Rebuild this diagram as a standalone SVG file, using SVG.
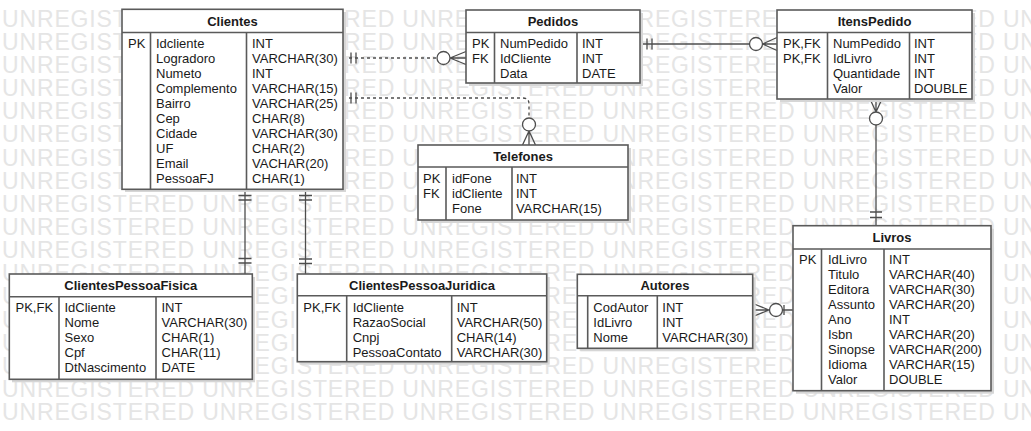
<svg xmlns="http://www.w3.org/2000/svg" width="1031" height="431" viewBox="0 0 1031 431">
  <style>
    .wm { font-family: "Liberation Sans", Arial, sans-serif; font-size: 23px; fill: #e5e5e5; letter-spacing: 0.85px; }
    .shadow { fill: #d6d6d6; }
    .box { fill: #ffffff; stroke: #5a5a5a; stroke-width: 1.6; }
    .sep { stroke: #5a5a5a; stroke-width: 1.6; fill: none; }
    .t { font-family: "Liberation Sans", Arial, sans-serif; font-size: 13px; fill: #1a1a1a; }
    .h { font-family: "Liberation Sans", Arial, sans-serif; font-size: 13px; font-weight: bold; fill: #1a1a1a; text-anchor: middle; }
    .ln { stroke: #4d4d4d; stroke-width: 1.3; fill: none; }
    .dash { stroke: #4d4d4d; stroke-width: 1.3; fill: none; stroke-dasharray: 3 3; }
    .ring { stroke: #4d4d4d; stroke-width: 1.3; fill: #ffffff; }
  </style>

  <rect width="1031" height="431" fill="#ffffff"/>

  <!-- background watermark rows -->
  <g id="watermark">
    <text class="wm" x="2" y="26.7">UNREGISTERED UNREGISTERED UNREGISTERED UNREGISTERED UNREGISTERED UNREGISTERED</text>
    <text class="wm" x="2" y="49.8">UNREGISTERED UNREGISTERED UNREGISTERED UNREGISTERED UNREGISTERED UNREGISTERED</text>
    <text class="wm" x="2" y="73.0">UNREGISTERED UNREGISTERED UNREGISTERED UNREGISTERED UNREGISTERED UNREGISTERED</text>
    <text class="wm" x="2" y="96.1">UNREGISTERED UNREGISTERED UNREGISTERED UNREGISTERED UNREGISTERED UNREGISTERED</text>
    <text class="wm" x="2" y="119.3">UNREGISTERED UNREGISTERED UNREGISTERED UNREGISTERED UNREGISTERED UNREGISTERED</text>
    <text class="wm" x="2" y="142.4">UNREGISTERED UNREGISTERED UNREGISTERED UNREGISTERED UNREGISTERED UNREGISTERED</text>
    <text class="wm" x="2" y="165.5">UNREGISTERED UNREGISTERED UNREGISTERED UNREGISTERED UNREGISTERED UNREGISTERED</text>
    <text class="wm" x="2" y="188.7">UNREGISTERED UNREGISTERED UNREGISTERED UNREGISTERED UNREGISTERED UNREGISTERED</text>
    <text class="wm" x="2" y="211.8">UNREGISTERED UNREGISTERED UNREGISTERED UNREGISTERED UNREGISTERED UNREGISTERED</text>
    <text class="wm" x="2" y="235.0">UNREGISTERED UNREGISTERED UNREGISTERED UNREGISTERED UNREGISTERED UNREGISTERED</text>
    <text class="wm" x="2" y="258.1">UNREGISTERED UNREGISTERED UNREGISTERED UNREGISTERED UNREGISTERED UNREGISTERED</text>
    <text class="wm" x="2" y="281.2">UNREGISTERED UNREGISTERED UNREGISTERED UNREGISTERED UNREGISTERED UNREGISTERED</text>
    <text class="wm" x="2" y="304.4">UNREGISTERED UNREGISTERED UNREGISTERED UNREGISTERED UNREGISTERED UNREGISTERED</text>
    <text class="wm" x="2" y="327.5">UNREGISTERED UNREGISTERED UNREGISTERED UNREGISTERED UNREGISTERED UNREGISTERED</text>
    <text class="wm" x="2" y="350.7">UNREGISTERED UNREGISTERED UNREGISTERED UNREGISTERED UNREGISTERED UNREGISTERED</text>
    <text class="wm" x="2" y="373.8">UNREGISTERED UNREGISTERED UNREGISTERED UNREGISTERED UNREGISTERED UNREGISTERED</text>
    <text class="wm" x="2" y="396.9">UNREGISTERED UNREGISTERED UNREGISTERED UNREGISTERED UNREGISTERED UNREGISTERED</text>
    <text class="wm" x="2" y="420.1">UNREGISTERED UNREGISTERED UNREGISTERED UNREGISTERED UNREGISTERED UNREGISTERED</text>
  </g>

  <!-- relationships -->
  <g id="connectors">
    <!-- Clientes 1 : N Pedidos -->
    <g id="rel-clientes-pedidos">
      <path class="dash" d="M343,58 H437"/>
      <path class="ln" d="M351,52.5 V63.5 M356,52.5 V63.5"/>
      <path class="ln" d="M450,58 L466,51.5 M450,58 L466,64.5 M450,58 H466"/>
      <circle class="ring" cx="443.5" cy="58" r="6.5"/>
    </g>
    <!-- Clientes 1 : N Telefones -->
    <g id="rel-clientes-telefones">
      <path class="dash" d="M343,98 H523 Q529,98 529,104 V118"/>
      <path class="ln" d="M351,92.5 V103.5 M356,92.5 V103.5"/>
      <path class="ln" d="M529,131 L522.5,145 M529,131 L535.5,145 M529,131 V145"/>
      <circle class="ring" cx="529" cy="124.5" r="6.5"/>
    </g>
    <!-- Pedidos 1 : N ItensPedido -->
    <g id="rel-pedidos-itens">
      <path class="ln" d="M640,44 H749.5"/>
      <path class="ln" d="M647,38.5 V49.5 M652,38.5 V49.5"/>
      <path class="ln" d="M762.5,44 L777,37.5 M762.5,44 L777,50.5 M762.5,44 H777"/>
      <circle class="ring" cx="756" cy="44" r="6.5"/>
    </g>
    <!-- Livros 1 : N ItensPedido -->
    <g id="rel-itens-livros">
      <path class="ln" d="M876,99 V112 M870,99 L876,112 M882,99 L876,112"/>
      <path class="ln" d="M876,125 V225.7"/>
      <circle class="ring" cx="876" cy="118.5" r="6.5"/>
      <path class="ln" d="M870,212 H882 M870,217.5 H882"/>
    </g>
    <!-- Clientes 1 : 1 ClientesPessoaFisica -->
    <g id="rel-clientes-pf">
      <path class="ln" d="M245,189 V274"/>
      <path class="ln" d="M238.5,195.5 H251.5 M238.5,200 H251.5 M238.5,258.5 H251.5 M238.5,263 H251.5"/>
    </g>
    <!-- Clientes 1 : 1 ClientesPessoaJuridica -->
    <g id="rel-clientes-pj">
      <path class="ln" d="M305.5,189 V274"/>
      <path class="ln" d="M299,195.5 H312 M299,200 H312 M299,259 H312 M299,263.5 H312"/>
    </g>
    <!-- Livros 1 : N Autores -->
    <g id="rel-autores-livros">
      <path class="ln" d="M753,303.5 L769,310 M753,316.5 L769,310 M753,310 H769"/>
      <circle class="ring" cx="776" cy="310" r="6.5"/>
      <path class="ln" d="M782.5,310 H793 M784,305 V315"/>
    </g>
  </g>

  <!-- Clientes -->
  <g id="clientes">
    <rect class="shadow" x="125" y="12" width="221" height="180"/>
    <rect class="box" x="122" y="9.3" width="221" height="180"/>
    <path class="sep" d="M122,32.5 H343 M150.5,32.5 V189.3 M246.5,32.5 V189.3"/>
    <text class="h" x="232.5" y="25.5">Clientes</text>
    <text class="t" x="128" y="47.7">PK</text>
    <text class="t" y="47.7"><tspan x="156">Idcliente</tspan><tspan x="156" dy="15">Logradoro</tspan><tspan x="156" dy="15">Numeto</tspan><tspan x="156" dy="15">Complemento</tspan><tspan x="156" dy="15">Bairro</tspan><tspan x="156" dy="15">Cep</tspan><tspan x="156" dy="15">Cidade</tspan><tspan x="156" dy="15">UF</tspan><tspan x="156" dy="15">Email</tspan><tspan x="156" dy="15">PessoaFJ</tspan></text>
    <text class="t" y="47.7"><tspan x="252">INT</tspan><tspan x="252" dy="15">VARCHAR(30)</tspan><tspan x="252" dy="15">INT</tspan><tspan x="252" dy="15">VARCHAR(15)</tspan><tspan x="252" dy="15">VARCHAR(25)</tspan><tspan x="252" dy="15">CHAR(8)</tspan><tspan x="252" dy="15">VARCHAR(30)</tspan><tspan x="252" dy="15">CHAR(2)</tspan><tspan x="252" dy="15">VACHAR(20)</tspan><tspan x="252" dy="15">CHAR(1)</tspan></text>
  </g>

  <!-- Pedidos -->
  <g id="pedidos">
    <rect class="shadow" x="469" y="13" width="174" height="73"/>
    <rect class="box" x="466" y="10" width="174" height="73"/>
    <path class="sep" d="M466,32.5 H640 M494.5,32.5 V83 M577,32.5 V83"/>
    <text class="h" x="553" y="25.5">Pedidos</text>
    <text class="t" y="47.5"><tspan x="472">PK</tspan><tspan x="472" dy="15">FK</tspan></text>
    <text class="t" y="47.5"><tspan x="500">NumPedido</tspan><tspan x="500" dy="15">IdCliente</tspan><tspan x="500" dy="15">Data</tspan></text>
    <text class="t" y="47.5"><tspan x="582">INT</tspan><tspan x="582" dy="15">INT</tspan><tspan x="582" dy="15">DATE</tspan></text>
  </g>

  <!-- ItensPedido -->
  <g id="itenspedido">
    <rect class="shadow" x="780" y="13" width="195" height="89"/>
    <rect class="box" x="777" y="10" width="195" height="89"/>
    <path class="sep" d="M777,32.5 H972 M827.5,32.5 V99 M909.5,32.5 V99"/>
    <text class="h" x="874.5" y="25.5">ItensPedido</text>
    <text class="t" y="47.5"><tspan x="783">PK,FK</tspan><tspan x="783" dy="15">PK,FK</tspan></text>
    <text class="t" y="47.5"><tspan x="833">NumPedido</tspan><tspan x="833" dy="15">IdLivro</tspan><tspan x="833" dy="15">Quantidade</tspan><tspan x="833" dy="15">Valor</tspan></text>
    <text class="t" y="47.5"><tspan x="914">INT</tspan><tspan x="914" dy="15">INT</tspan><tspan x="914" dy="15">INT</tspan><tspan x="914" dy="15">DOUBLE</tspan></text>
  </g>

  <!-- Telefones -->
  <g id="telefones">
    <rect class="shadow" x="421" y="148" width="210" height="75"/>
    <rect class="box" x="418" y="145" width="210" height="75"/>
    <path class="sep" d="M418,167 H628 M446,167 V220 M512,167 V220"/>
    <text class="h" x="523" y="161">Telefones</text>
    <text class="t" y="183.3"><tspan x="423">PK</tspan><tspan x="423" dy="15">FK</tspan></text>
    <text class="t" y="183.3"><tspan x="452">idFone</tspan><tspan x="452" dy="15">idCliente</tspan><tspan x="452" dy="15">Fone</tspan></text>
    <text class="t" y="183.3"><tspan x="516">INT</tspan><tspan x="516" dy="15">INT</tspan><tspan x="516" dy="15">VARCHAR(15)</tspan></text>
  </g>

  <!-- Livros -->
  <g id="livros">
    <rect class="shadow" x="796" y="228.7" width="198" height="165"/>
    <rect class="box" x="793" y="225.7" width="198" height="165"/>
    <path class="sep" d="M793,249 H991 M821.5,249 V390.7 M884,249 V390.7"/>
    <text class="h" x="892" y="241.7">Livros</text>
    <text class="t" x="799" y="264">PK</text>
    <text class="t" y="264"><tspan x="828">IdLivro</tspan><tspan x="828" dy="15">Titulo</tspan><tspan x="828" dy="15">Editora</tspan><tspan x="828" dy="15">Assunto</tspan><tspan x="828" dy="15">Ano</tspan><tspan x="828" dy="15">Isbn</tspan><tspan x="828" dy="15">Sinopse</tspan><tspan x="828" dy="15">Idioma</tspan><tspan x="828" dy="15">Valor</tspan></text>
    <text class="t" y="264"><tspan x="889">INT</tspan><tspan x="889" dy="15">VARCHAR(40)</tspan><tspan x="889" dy="15">VARCHAR(30)</tspan><tspan x="889" dy="15">VARCHAR(20)</tspan><tspan x="889" dy="15">INT</tspan><tspan x="889" dy="15">VARCHAR(20)</tspan><tspan x="889" dy="15">VARCHAR(200)</tspan><tspan x="889" dy="15">VARCHAR(15)</tspan><tspan x="889" dy="15">DOUBLE</tspan></text>
  </g>

  <!-- ClientesPessoaFisica -->
  <g id="clientespessoafisica">
    <rect class="shadow" x="12" y="277" width="243" height="105.3"/>
    <rect class="box" x="9.3" y="274" width="243" height="105.3"/>
    <path class="sep" d="M9.3,296.7 H252.3 M59,296.7 V379.3 M156,296.7 V379.3"/>
    <text class="h" x="130.8" y="290">ClientesPessoaFisica</text>
    <text class="t" x="15.5" y="311.7">PK,FK</text>
    <text class="t" y="311.7"><tspan x="64.5">IdCliente</tspan><tspan x="64.5" dy="15">Nome</tspan><tspan x="64.5" dy="15">Sexo</tspan><tspan x="64.5" dy="15">Cpf</tspan><tspan x="64.5" dy="15">DtNascimento</tspan></text>
    <text class="t" y="311.7"><tspan x="161.5">INT</tspan><tspan x="161.5" dy="15">VARCHAR(30)</tspan><tspan x="161.5" dy="15">CHAR(1)</tspan><tspan x="161.5" dy="15">CHAR(11)</tspan><tspan x="161.5" dy="15">DATE</tspan></text>
  </g>

  <!-- ClientesPessoaJuridica -->
  <g id="clientespessoajuridica">
    <rect class="shadow" x="300.3" y="277" width="249.4" height="87.7"/>
    <rect class="box" x="297.3" y="274" width="249.4" height="87.7"/>
    <path class="sep" d="M297.3,295.7 H546.7 M346.7,295.7 V361.7 M451.7,295.7 V361.7"/>
    <text class="h" x="422" y="290">ClientesPessoaJuridica</text>
    <text class="t" x="303.3" y="311.7">PK,FK</text>
    <text class="t" y="311.7"><tspan x="352.7">IdCliente</tspan><tspan x="352.7" dy="15">RazaoSocial</tspan><tspan x="352.7" dy="15">Cnpj</tspan><tspan x="352.7" dy="15">PessoaContato</tspan></text>
    <text class="t" y="311.7"><tspan x="456.7">INT</tspan><tspan x="456.7" dy="15">VARCHAR(50)</tspan><tspan x="456.7" dy="15">CHAR(14)</tspan><tspan x="456.7" dy="15">VARCHAR(30)</tspan></text>
  </g>

  <!-- Autores -->
  <g id="autores">
    <rect class="shadow" x="580.3" y="277.3" width="175.4" height="74"/>
    <rect class="box" x="577.3" y="274.3" width="175.4" height="74"/>
    <path class="sep" d="M577.3,295.7 H752.7 M587.7,295.7 V348.3 M657.3,295.7 V348.3"/>
    <text class="h" x="665" y="290">Autores</text>
    <text class="t" y="311.7"><tspan x="593.3">CodAutor</tspan><tspan x="593.3" dy="15">IdLivro</tspan><tspan x="593.3" dy="15">Nome</tspan></text>
    <text class="t" y="311.7"><tspan x="662.3">INT</tspan><tspan x="662.3" dy="15">INT</tspan><tspan x="662.3" dy="15">VARCHAR(30)</tspan></text>
  </g>
</svg>
